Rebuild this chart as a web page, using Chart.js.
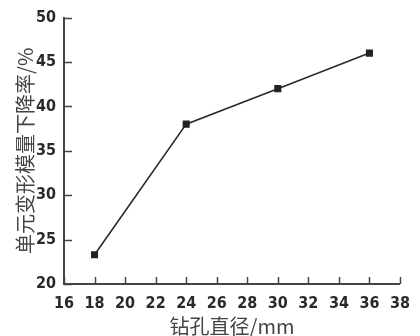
<!DOCTYPE html>
<html>
<head>
<meta charset="utf-8">
<script src="https://cdn.jsdelivr.net/npm/chart.js@4"></script>
<style>
  html, body { margin: 0; padding: 0; background: #fff; }
  #wrap { width: 420px; height: 336px; }
</style>
</head>
<body>
<div id="wrap"><canvas id="chart" width="420" height="336"></canvas></div>
<script>
// data
const diameters = [18, 24, 30, 36];
const dropRates = [23.3, 38, 42, 46];
const xTicks = [16, 18, 20, 22, 24, 26, 28, 30, 32, 34, 36, 38];
const yTicks = [20, 25, 30, 35, 40, 45, 50];

const tickFont = { family: "'Liberation Sans Narrow', 'DejaVu Sans Condensed', sans-serif", size: 16, weight: 'bold' };
const titleFont = { family: 'Noto Sans CJK SC', size: 20, lineHeight: 1 };

// short tick marks pointing into the plot
const innerTicks = {
    id: 'innerTicks',
    afterDraw(chart) {
        const ctx = chart.ctx;
        const x = chart.scales.x, y = chart.scales.y;
        ctx.save();
        ctx.strokeStyle = '#444';
        ctx.lineWidth = 1.5;
        ctx.beginPath();
        xTicks.forEach(v => {
            const px = Math.round(x.getPixelForValue(v)) + 0.5;
            ctx.moveTo(px, x.top);
            ctx.lineTo(px, x.top - 7);
        });
        yTicks.forEach(v => {
            const py = Math.round(y.getPixelForValue(v)) + 0.5;
            ctx.moveTo(y.right, py);
            ctx.lineTo(y.right + 8, py);
        });
        ctx.stroke();
        ctx.restore();
    }
};

new Chart(document.getElementById('chart').getContext('2d'), {
    type: 'line',
    data: {
        datasets: [{
            data: diameters.map((d, i) => ({ x: d, y: dropRates[i] })),
            borderColor: '#2a2a2a',
            borderWidth: 1.6,
            pointStyle: 'rect',
            pointRadius: 5,
            pointBackgroundColor: '#222',
            pointBorderColor: '#222',
            pointBorderWidth: 0,
            tension: 0
        }]
    },
    options: {
        responsive: false,
        animation: false,
        layout: { padding: { top: 16, right: 11, left: 0, bottom: 0 } },
        plugins: { legend: { display: false }, tooltip: { enabled: false } },
        scales: {
            x: {
                type: 'linear',
                min: 16, max: 38,
                afterFit: s => { s.height = 52; },
                afterBuildTicks: s => { s.ticks = xTicks.map(v => ({ value: v })); },
                grid: { display: false, drawTicks: false },
                border: { display: true, color: '#444', width: 2 },
                ticks: { font: tickFont, color: '#2a2a2a', padding: 10, maxRotation: 0, autoSkip: false },
                title: { display: true, text: '钻孔直径/mm', font: titleFont, color: '#444', padding: { top: 0, bottom: 0 } }
            },
            y: {
                type: 'linear',
                min: 20, max: 50,
                afterFit: s => { s.width = 64; },
                afterBuildTicks: s => { s.ticks = yTicks.map(v => ({ value: v })); },
                grid: { display: false, drawTicks: false },
                border: { display: true, color: '#444', width: 2 },
                ticks: { font: tickFont, color: '#2a2a2a', padding: 8 },
                title: { display: true, text: '单元变形模量下降率/%', font: titleFont, color: '#444', padding: { top: 15, bottom: 0 } }
            }
        }
    },
    plugins: [innerTicks]
});
</script>
</body>
</html>
